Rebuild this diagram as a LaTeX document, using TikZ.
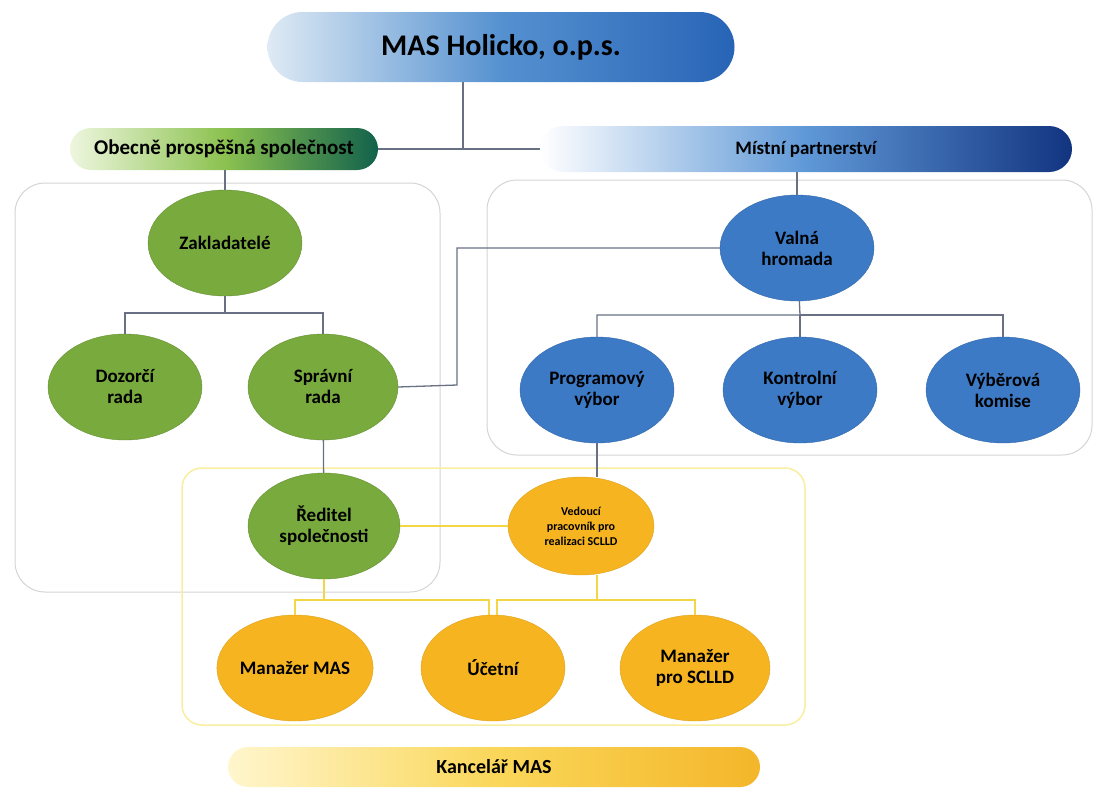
\documentclass[tikz,border=0pt]{standalone}
\usepackage{fontspec}
\setmainfont{Carlito}
\usepackage{tikz}
\usetikzlibrary{shapes.geometric,positioning}
\definecolor{masgreen}{RGB}{120,170,62}
\definecolor{masblue}{RGB}{60,122,198}
\definecolor{masorange}{RGB}{246,180,32}
\definecolor{masline}{RGB}{105,112,132}
\definecolor{masyellow}{RGB}{242,214,70}
\definecolor{masframe}{RGB}{212,212,212}
\definecolor{masyframe}{RGB}{248,238,160}
\tikzset{
  pill/.style={rounded corners=21pt, minimum height=42pt, inner sep=0pt, font=\fontsize{19}{22}\selectfont\bfseries},
  grnell/.style={ellipse, fill=masgreen, draw=masgreen!85!black, minimum width=154pt, minimum height=106pt, inner sep=0pt, align=center, font=\fontsize{19}{21}\selectfont\bfseries},
  bluell/.style={grnell, fill=masblue, draw=masblue!85!black},
  orell/.style={grnell, fill=masorange, draw=masorange!90!black, minimum width=150pt},
  conn/.style={masline, line width=1.3pt},
  yconn/.style={masyellow, line width=2pt}
}

\begin{document}
\begin{tikzpicture}[x=1pt, y=-1pt]
\useasboundingbox (0,0) rectangle (1102,787);

% Frames
\draw[masframe, line width=1pt, rounded corners=30pt] (15,183) rectangle (440,592);
\draw[masframe, line width=1pt, rounded corners=30pt] (487,180) rectangle (1092,455);
\draw[masyframe, line width=1.5pt, rounded corners=20pt] (182,468) rectangle (805,725);

% Bars
\node[pill, rounded corners=35pt, minimum width=467pt, minimum height=70pt, left color={rgb,255:red,222;green,234;blue,244}, right color={rgb,255:red,40;green,100;blue,182}, middle color={rgb,255:red,85;green,145;blue,208}, font=\fontsize{30}{34}\selectfont\bfseries] (title) at (501,47) {MAS Holicko, o.p.s.};
\node[pill, minimum width=308pt, left color={rgb,255:red,238;green,246;blue,222}, right color={rgb,255:red,18;green,98;blue,76}, middle color={rgb,255:red,140;green,194;blue,80}, font=\fontsize{21}{24}\selectfont\bfseries] (ops) at (224,149) {Obecně prospěšná společnost};
\node[pill, minimum width=532pt, minimum height=46pt, rounded corners=23pt, left color=white, right color={rgb,255:red,18;green,52;blue,128}, middle color={rgb,255:red,95;green,152;blue,215}] (mp) at (806,149) {Místní partnerství};
\node[pill, minimum width=532pt, minimum height=40pt, rounded corners=20pt, left color={rgb,255:red,255;green,246;blue,205}, right color={rgb,255:red,244;green,182;blue,42}, middle color={rgb,255:red,250;green,215;blue,90}, font=\fontsize{20}{23}\selectfont\bfseries] (kanc) at (494,767) {Kancelář MAS};

% Obecne prospesna spolecnost
\node[grnell] (zakl) at (225,243) {Zakladatelé};
\node[grnell] (dozor) at (125,387) {Dozorčí\\rada};
\node[grnell, minimum width=150pt] (sprav) at (323,387) {Správní\\rada};
\node[grnell, minimum width=152pt] (reditel) at (324,526) {Ředitel\\společnosti};

% Mistni partnerstvi
\node[bluell] (valna) at (797,248) {Valná\\hromada};
\node[bluell] (prog) at (597,390) {Programový\\výbor};
\node[bluell] (kontr) at (800,390) {Kontrolní\\výbor};
\node[bluell] (vyber) at (1003,390) {Výběrová\\komise};

% Kancelar
\node[orell, minimum width=146pt, minimum height=98pt, font=\fontsize{12}{15}\selectfont\bfseries] (vedouci) at (581,526) {Vedoucí\\pracovník pro\\realizaci SCLLD};
\node[orell] (manmas) at (295,668) {Manažer MAS};
\node[orell, minimum width=144pt] (ucetni) at (493,668) {Účetní};
\node[orell] (manscl) at (695,668) {Manažer\\pro SCLLD};

% Connections
\coordinate (split) at (463,149);
\draw[conn] (title.south -| split) -- (split);
\draw[conn] (ops) -- (mp);
\draw[conn] (ops.south -| zakl) -- (zakl);
\draw[conn] (mp.south -| valna) -- (valna);

\draw[conn] (zakl) -- (225,313) -| (dozor);
\draw[conn] (225,313) -| (sprav);
\draw[conn] (sprav) -- (reditel);
\draw[conn] (sprav.east) -- (457,385) |- (valna.west);

\draw[conn] (valna) -- (800,315) -| (prog);
\draw[conn] (800,315) -| (vyber);
\draw[conn] (800,315) -- (kontr);
\draw[conn] (prog) -- (vedouci.north -| prog);

\draw[yconn] (reditel) -- (vedouci);
\draw[yconn] (reditel.south) -- (324,600) -| (manmas);
\draw[yconn] (324,600) -| ([xshift=-4pt]ucetni.north);
\draw[yconn] (vedouci.south -| prog) -- (597,600) -| ([xshift=4pt]ucetni.north);
\draw[yconn] (597,600) -| (manscl);
\end{tikzpicture}
\end{document}
